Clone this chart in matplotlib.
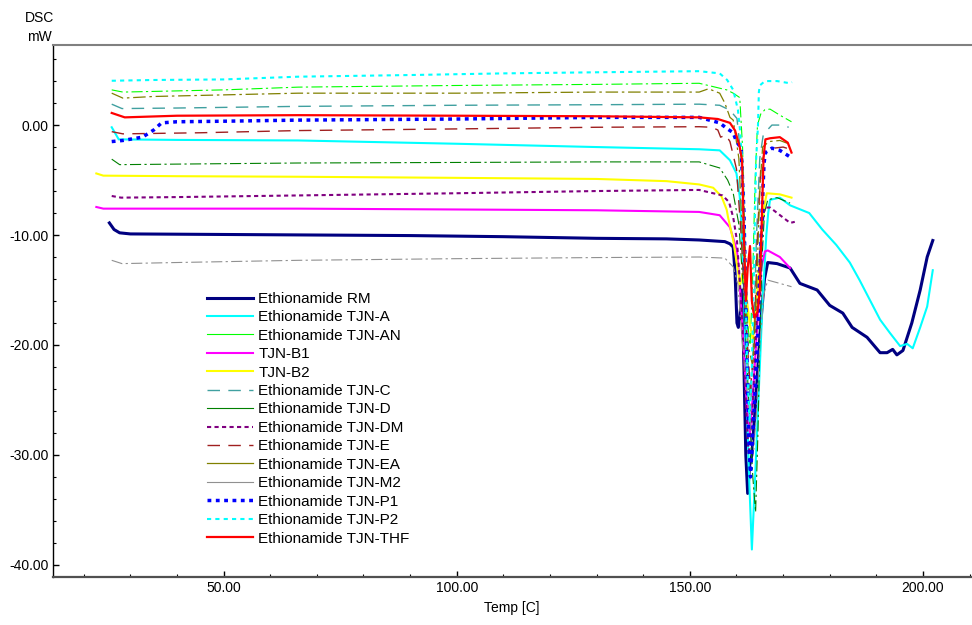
import numpy as np
import matplotlib
matplotlib.use("Agg")
import matplotlib.pyplot as plt
from matplotlib.lines import Line2D
from matplotlib.ticker import MultipleLocator, FormatStrFormatter

plt.rcParams["font.family"] = ["Liberation Sans", "DejaVu Sans"]

# ── DSC curves (Temp [C], mW) ────────────────────────────────────────────
RM_T = [25.5, 26.5, 27.7, 30, 50, 70, 90, 110, 130, 145, 152, 157.5, 158.6, 159.3, 159.7,
        160.1, 160.4, 160.7, 161.2, 161.6, 162.0, 162.4, 162.8, 163.3, 164.3, 165.2, 166.0,
        166.7, 168.7, 171.5, 173.6, 177.3, 180.0, 182.8, 184.8, 188.0, 190.8, 192.3, 193.5,
        194.4, 195.7, 197.6, 199.4, 200.9, 202.1]
RM_V = [-8.9, -9.5, -9.8, -9.9, -9.95, -10.0, -10.05, -10.15, -10.3, -10.35, -10.45, -10.6,
        -10.8, -11.1, -13.5, -18.0, -18.4, -17.5, -15.0, -22.0, -30.0, -33.5, -31.0, -30.0,
        -24.0, -18.0, -14.0, -12.5, -12.6, -13.0, -14.4, -15.0, -16.4, -17.1, -18.4, -19.3,
        -20.7, -20.7, -20.4, -20.9, -20.5, -18.0, -15.0, -12.0, -10.5]

A_T = [26.0, 27.5, 40, 66, 100, 130, 152, 156.4, 158.6, 160.0, 160.7, 161.4, 162.0, 162.7,
       163.3, 164.0, 164.8, 165.6, 166.4, 166.8, 167.2, 169.3, 171.5, 175.6, 178.4, 181.4,
       184.3, 186.4, 188.6, 190.8, 192.9, 195.1, 196.6, 197.8, 199.4, 200.9, 202.1]
A_V = [-0.2, -1.3, -1.35, -1.4, -1.7, -2.0, -2.2, -2.3, -3.2, -4.4, -6.5, -12.0, -22.0,
       -32.0, -38.6, -32.0, -24.0, -16.0, -10.0, -8.0, -6.8, -6.6, -7.3, -8.0, -9.5, -10.9,
       -12.5, -14.1, -15.9, -17.7, -18.9, -20.1, -19.9, -20.3, -18.4, -16.5, -13.2]

AN_T = [26.0, 28.4, 50, 66, 100, 130, 152, 157.9, 159.3, 160.7, 161.3, 161.8, 162.4, 162.9,
        163.4, 164.0, 164.5, 165.2, 166.1, 167.2, 169.3, 171.8]
AN_V = [3.2, 3.0, 3.2, 3.45, 3.6, 3.7, 3.8, 3.2, 2.9, 2.5, -2.0, -10.0, -18.0, -20.0,
        -15.0, -5.0, 0.0, 1.0, 1.4, 1.45, 0.9, 0.3]

B1_T = [22.7, 24.2, 40, 66, 110, 130, 152, 156.4, 158.6, 160.1, 160.7, 161.5, 162.3, 162.9,
        163.6, 164.5, 165.3, 166.1, 166.7, 169.3, 171.5]
B1_V = [-7.45, -7.6, -7.6, -7.6, -7.7, -7.75, -7.9, -8.2, -9.3, -11.4, -14.4, -20.0, -26.0,
        -28.0, -24.0, -18.0, -13.0, -11.5, -11.4, -12.0, -13.0]

B2_T = [22.7, 24.2, 40, 66, 100, 130, 145, 152, 155, 156.8, 157.9, 158.2, 159.3, 160.4,
        160.7, 161.3, 162.0, 162.8, 163.5, 164.3, 165.2, 165.9, 166.5, 169.3, 171.8]
B2_V = [-4.4, -4.6, -4.65, -4.7, -4.8, -4.9, -5.1, -5.4, -5.7, -6.5, -7.7, -8.4, -10.5,
        -13.5, -14.7, -13.5, -15.0, -18.0, -19.5, -16.0, -11.0, -7.5, -6.2, -6.3, -6.6]

C_T = [26.0, 28.2, 40, 66, 100, 130, 152, 156.4, 158.6, 160.1, 161.0, 161.8, 162.5, 163.0,
       163.6, 164.3, 165.0, 165.7, 166.3, 167.6, 169.7, 171.2]
C_V = [1.9, 1.5, 1.55, 1.7, 1.8, 1.85, 1.9, 1.8, 1.35, 0.6, -3.0, -12.0, -22.0, -26.0,
       -20.0, -10.0, -3.0, -1.0, -0.6, 0.0, 0.0, -0.2]

D_T = [26.0, 27.7, 40, 66, 100, 130, 152, 156.4, 158.1, 159.3, 160.5, 161.5, 162.5, 163.5,
       164.1, 164.6, 165.0, 165.5, 166.0, 166.7, 168.7, 171.5]
D_V = [-3.1, -3.6, -3.55, -3.45, -3.4, -3.35, -3.35, -3.9, -5.0, -6.2, -9.0, -15.0, -24.0,
       -32.0, -35.2, -28.0, -19.6, -12.0, -8.0, -6.8, -6.6, -7.1]

DM_T = [26.0, 28.0, 40, 66, 100, 130, 152, 157.0, 158.4, 159.3, 160.1, 161.0, 162.0, 162.6,
        163.3, 164.3, 165.3, 166.0, 167.2, 171.5, 172.5]
DM_V = [-6.45, -6.6, -6.55, -6.4, -6.2, -6.0, -5.9, -6.4, -7.0, -8.4, -10.5, -16.0, -25.0,
        -30.0, -27.0, -18.0, -10.0, -7.5, -7.5, -8.9, -8.8]

E_T = [26.0, 28.4, 45, 66, 100, 130, 152, 154.7, 156.0, 156.6, 157.7, 158.6, 160.0, 161.0,
       162.0, 163.0, 163.8, 164.5, 165.2, 166.0, 168.0, 170.0, 171.5]
E_V = [-0.6, -0.8, -0.7, -0.5, -0.35, -0.2, -0.15, -0.2, -0.45, -1.1, -0.9, -1.5, -4.0,
       -10.0, -18.0, -24.0, -20.0, -10.0, -4.0, -2.5, -2.1, -2.0, -2.2]

EA_T = [26.0, 28.4, 35, 66, 100, 130, 152, 154.0, 156.4, 157.5, 158.6, 159.3, 160.5, 161.5,
        162.5, 163.5, 164.3, 165.0, 165.6, 167.0, 169.3, 171.8]
EA_V = [2.9, 2.45, 2.6, 2.9, 2.9, 3.0, 3.0, 3.3, 2.9, 2.0, 0.7, 0.45, -3.0, -12.0, -20.0,
        -22.0, -15.0, -6.0, -2.0, -1.5, -1.4, -1.8]

M2_T = [26.0, 28.2, 40, 66, 100, 130, 152, 157.5, 159.3, 160.3, 161.2, 162.2, 163.2, 163.7,
        164.3, 165.0, 165.8, 166.7, 169.3, 171.8]
M2_V = [-12.3, -12.6, -12.5, -12.3, -12.15, -12.05, -12.0, -12.1, -12.9, -14.5, -19.5,
        -24.0, -28.0, -29.5, -26.0, -20.0, -15.5, -14.1, -14.4, -14.7]

P1_T = [26.0, 28.4, 32.6, 35.0, 36.7, 40, 50, 66, 100, 130, 152, 156.4, 157.9, 159.3, 160.0,
        161.0, 161.6, 162.1, 162.6, 163.0, 163.5, 164.5, 165.3, 165.9, 166.2, 167.6, 169.3,
        171.5, 171.9]
P1_V = [-1.5, -1.4, -1.1, -0.45, 0.2, 0.3, 0.35, 0.45, 0.55, 0.7, 0.7, 0.2, -0.3, -0.7,
        -1.5, -2.1, -8.0, -18.0, -28.0, -32.0, -28.0, -20.0, -10.0, -3.5, -2.5, -2.1, -2.3,
        -2.9, -2.95]

P2_T = [26.0, 35, 50, 66, 90, 110, 130, 152, 156.4, 158.0, 159.3, 160.3, 160.7, 161.2,
        161.8, 162.3, 162.8, 163.3, 163.8, 164.2, 164.6, 164.8, 165.0, 166.1, 168.7, 171.5,
        171.9]
P2_V = [4.03, 4.1, 4.15, 4.4, 4.55, 4.7, 4.8, 4.9, 4.7, 4.1, 3.2, 1.4, -0.2, -3.2, -12.0,
        -22.0, -27.0, -22.0, -12.0, -3.2, -0.2, 3.0, 3.6, 4.0, 4.0, 3.8, 3.9]

THF_T = [26.0, 28.8, 40, 66, 100, 130, 152, 156.0, 158.6, 159.7, 160.7, 161.2, 161.6, 162.0,
         162.4, 162.9, 163.3, 163.8, 164.5, 165.0, 165.4, 165.8, 166.2, 167.2, 169.3, 171.0,
         171.8]
THF_V = [1.1, 0.7, 0.85, 0.9, 0.85, 0.8, 0.7, 0.55, 0.2, -0.5, -2.0, -3.2, -10.0, -16.0,
         -13.0, -11.0, -16.0, -17.5, -17.0, -15.0, -9.0, -3.0, -1.3, -1.2, -1.1, -1.6, -2.5]

Labels = ["Ethionamide RM", "Ethionamide TJN-A", "Ethionamide TJN-AN", "TJN-B1", "TJN-B2",
          "Ethionamide TJN-C", "Ethionamide TJN-D", "Ethionamide TJN-DM", "Ethionamide TJN-E",
          "Ethionamide TJN-EA", "Ethionamide TJN-M2", "Ethionamide TJN-P1",
          "Ethionamide TJN-P2", "Ethionamide TJN-THF"]
Series = [(RM_T, RM_V), (A_T, A_V), (AN_T, AN_V), (B1_T, B1_V), (B2_T, B2_V), (C_T, C_V),
          (D_T, D_V), (DM_T, DM_V), (E_T, E_V), (EA_T, EA_V), (M2_T, M2_V), (P1_T, P1_V),
          (P2_T, P2_V), (THF_T, THF_V)]

# colour, width, line style in plot, line style in legend
dashdot = (0, (10, 3, 2, 3))
Styles = [
    ("#000080", 2.2, "-",              "-"),
    ("#00FFFF", 1.5, "-",              "-"),
    ("#00FF00", 0.8, dashdot,          "-"),
    ("#FF00FF", 1.5, "-",              "-"),
    ("#FFFF00", 1.5, "-",              "-"),
    ("#40A0A0", 1.0, (0, (9, 6)),      (0, (9, 6))),
    ("#008000", 0.8, dashdot,          "-"),
    ("#800080", 1.5, (0, (2, 1.6)),    (0, (2, 1.6))),
    ("#A02020", 1.0, (0, (9, 6)),      (0, (9, 6))),
    ("#808000", 0.9, dashdot,          "-"),
    ("#909090", 0.8, dashdot,          "-"),
    ("#0000FF", 2.5, (0, (1.1, 1.3)),  (0, (1.1, 1.3))),
    ("#00FFFF", 1.5, (0, (2, 2)),      (0, (2, 2))),
    ("#FF0000", 1.6, "-",              "-"),
]

fig = plt.figure(figsize=(9.72, 6.25), dpi=100)
ax = fig.add_axes([0.0545, 0.0768, 0.944, 0.851])

handles = []
for (t, v), lab, (col, lw, ls, ls_leg) in zip(Series, Labels, Styles):
    ax.plot(t, v, color=col, lw=lw, ls=ls)
    handles.append(Line2D([], [], color=col, lw=lw, ls=ls_leg, label=lab))

ax.set_xlim(13.4, 210.2)
ax.set_ylim(-41.1, 7.27)
ax.xaxis.set_major_locator(MultipleLocator(50))
ax.xaxis.set_minor_locator(MultipleLocator(10))
ax.yaxis.set_major_locator(MultipleLocator(10))
ax.yaxis.set_minor_locator(MultipleLocator(2))
ax.xaxis.set_major_formatter(FormatStrFormatter("%.2f"))
ax.yaxis.set_major_formatter(FormatStrFormatter("%.2f"))
ax.tick_params(which="major", direction="in", length=4, width=1, labelsize=10, pad=3)
ax.tick_params(which="minor", direction="in", length=2.2, width=0.8)

ax.spines["right"].set_visible(False)
ax.spines["top"].set_color("#808080")
ax.spines["top"].set_linewidth(1.5)
ax.spines["bottom"].set_color("#505050")
ax.spines["bottom"].set_linewidth(1.6)
ax.spines["left"].set_linewidth(1.0)

ax.set_xlabel("Temp [C]", fontsize=10, labelpad=4)
fig.text(0.041, 0.972, "DSC", fontsize=10, ha="center", va="center")
fig.text(0.041, 0.941, "mW", fontsize=10, ha="center", va="center")

ax.legend(handles=handles, loc="upper left", bbox_to_anchor=(0.168, 0.536),
          frameon=False, fontsize=11, handlelength=3.0, handletextpad=0.35,
          labelspacing=0.29, borderpad=0, borderaxespad=0)

fig.savefig("out.png", dpi=100)
